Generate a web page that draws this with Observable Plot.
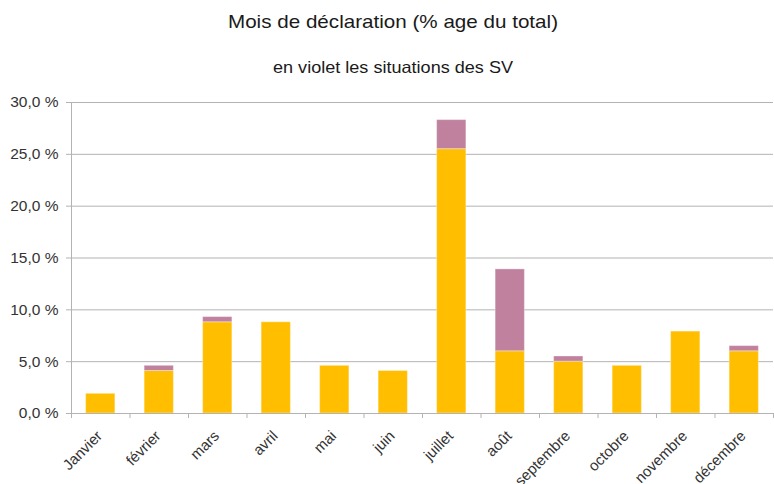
<!DOCTYPE html>
<html><head><meta charset="utf-8">
<script src="https://cdn.jsdelivr.net/npm/d3@7"></script>
<script src="https://cdn.jsdelivr.net/npm/@observablehq/plot@0.6"></script>
<style>
body{margin:0;background:#fff;font-family:"Liberation Sans",Arial,sans-serif;}
#wrap{position:relative;width:774px;height:484px;overflow:hidden;}
#wrap svg{position:absolute;left:0;top:0;}
.t{position:absolute;left:0;width:786px;text-align:center;color:#1a1a1a;white-space:nowrap;transform-origin:50% 50%;}
#title{top:12px;font-size:19px;line-height:20px;transform:scaleX(1.085);}
#sub{top:58px;font-size:16.5px;line-height:18px;transform:scaleX(1.095);}
</style></head><body>
<div id="wrap">
<div class="t" id="title">Mois de déclaration (% age du total)</div>
<div class="t" id="sub">en violet les situations des SV</div>
</div>
<script>
const months = ["Janvier","février","mars","avril","mai","juin","juillet","août","septembre","octobre","novembre","décembre"];
const autres = [1.9, 4.1, 8.8, 8.8, 4.6, 4.1, 25.5, 6.0, 5.0, 4.6, 7.9, 6.0];
const sv     = [0,   0.5, 0.5, 0,   0,   0,   2.8,  7.9, 0.5, 0,   0,   0.5];
const series = ["autres", "SV"];
const colors = ["#ffbf00", "#c0819e"];
const yTicks = [0, 5, 10, 15, 20, 25, 30];

const W = 774, H = 484, mL = 71, mR = 1, mT = 102, mB = 71;
const step = (W - mL - mR) / months.length;
const rows = months.flatMap((m, i) => [
  {month: m, serie: series[0], value: autres[i]},
  {month: m, serie: series[1], value: sv[i]}
]);
const grid = "#b3b3b3";
const chart = Plot.plot({
  width: W, height: H,
  marginLeft: mL, marginRight: mR, marginTop: mT, marginBottom: mB,
  style: {fontFamily: "Liberation Sans, Arial, sans-serif", fontSize: "15px", color: "#333", background: "transparent"},
  x: {domain: months, paddingInner: 0.5, paddingOuter: 0.25, round: false, label: null},
  y: {domain: [0, 30], label: null},
  color: {domain: series, range: colors},
  marks: [
    Plot.gridY(yTicks, {stroke: grid, strokeOpacity: 1}),
    Plot.barY(rows, {x: "month", y: "value", fill: "serie", order: series, stroke: "#fff", strokeOpacity: 0.35, strokeWidth: 1}),
    Plot.ruleY([0], {stroke: grid}),
    Plot.ruleX([months[0]], {x: d => d, dx: -step / 2, y1: 0, y2: 30, stroke: grid}),
    Plot.ruleX(months, {x: d => d, dx: -step / 2, y1: 0, y2: 0, insetBottom: -5, stroke: grid}),
    Plot.ruleX([months[months.length - 1]], {x: d => d, dx: step / 2, y1: 0, y2: 0, insetBottom: -5, stroke: grid}),
    Plot.axisY(yTicks, {tickSize: 5, tickPadding: 8, stroke: grid, fill: "#333", fontSize: 15.5,
      tickFormat: d => d.toFixed(1).replace(".", ",") + "\u00a0%", label: null}),
    Plot.axisX({tickSize: 0, tickRotate: -45, tickPadding: 20, dx: -1, fill: "#333", fontSize: 15, label: null})
  ]
});
document.getElementById("wrap").prepend(chart);
</script>
</body></html>
